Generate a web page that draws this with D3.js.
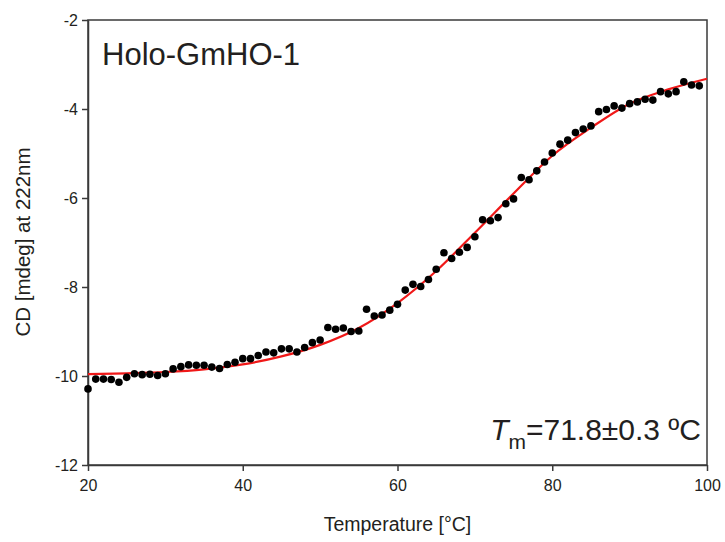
<!DOCTYPE html>
<html lang="en">
<head>
<meta charset="UTF-8">
<title>Holo-GmHO-1 melting curve</title>
<style>
    body { margin: 0; background: #fff; }
    text { font-family: "Liberation Sans", Arial, sans-serif; fill: #231f20; }
</style>
</head>
<body>
<script src="https://cdn.jsdelivr.net/npm/d3@7"></script>
<script>

    // measured CD signal, one reading per degree
    var temps = [20,21,22,23,24,25,26,27,28,29,30,31,32,33,34,35,36,37,38,39,
                 40,41,42,43,44,45,46,47,48,49,50,51,52,53,54,55,56,57,58,59,
                 60,61,62,63,64,65,66,67,68,69,70,71,72,73,74,75,76,77,78,79,
                 80,81,82,83,84,85,86,87,88,89,90,91,92,93,94,95,96,97,98,99];
    var cd = [-10.29,-10.07,-10.07,-10.08,-10.14,-10.03,-9.95,-9.97,-9.96,-9.99,
              -9.95,-9.84,-9.79,-9.75,-9.76,-9.76,-9.80,-9.83,-9.74,-9.69,
              -9.61,-9.61,-9.54,-9.46,-9.48,-9.39,-9.39,-9.46,-9.36,-9.25,
              -9.19,-8.91,-8.95,-8.92,-9.00,-8.99,-8.50,-8.65,-8.63,-8.52,
              -8.39,-8.07,-7.94,-7.99,-7.83,-7.60,-7.23,-7.36,-7.22,-7.11,
              -6.87,-6.49,-6.51,-6.44,-6.13,-6.02,-5.54,-5.59,-5.39,-5.19,
              -4.99,-4.79,-4.70,-4.53,-4.45,-4.38,-4.06,-4.01,-3.93,-3.98,
              -3.88,-3.84,-3.78,-3.80,-3.61,-3.66,-3.61,-3.39,-3.46,-3.48];

    var fitTemps = [20,25,30,35,40,45,50,55,60,65,70,75,80,85,90,95,100];
    var fitCd = [-9.96,-9.94,-9.91,-9.85,-9.74,-9.56,-9.30,-8.92,-8.36,-7.64,
                 -6.78,-5.90,-5.05,-4.42,-3.88,-3.56,-3.32];

    var xTicks = [20,40,60,80,100];
    var yTicks = [-2,-4,-6,-8,-10,-12];

    var width = 725, height = 542;
    var plotL = 88, plotR = 707, plotT = 20, plotB = 465;

    var svg = d3.select("body").append("svg")
        .attr("width", width)
        .attr("height", height);

    var x = d3.scaleLinear().domain([20, 100]).range([plotL, plotR]);
    var y = d3.scaleLinear().domain([-12, -2]).range([plotB, plotT]);

    // frame
    svg.append("rect")
        .attr("x", plotL).attr("y", plotT)
        .attr("width", plotR - plotL).attr("height", plotB - plotT)
        .attr("fill", "none").attr("stroke", "#3a3a3a").attr("stroke-width", 1.5);

    // plain hyphen for negatives, like the original
    var plain = function(d){ return String(d); };
    var xAxis = d3.axisBottom(x).tickValues(xTicks).tickFormat(plain).tickSize(6).tickSizeOuter(0);
    var yAxis = d3.axisLeft(y).tickValues(yTicks).tickFormat(plain).tickSize(6).tickSizeOuter(0);

    var gx = svg.append("g")
        .attr("transform", "translate(0," + plotB + ")")
        .call(xAxis);
    var gy = svg.append("g")
        .attr("transform", "translate(" + plotL + ",0)")
        .call(yAxis);

    [gx, gy].forEach(function(g){
        g.attr("font-size", 16).attr("font-family", "Liberation Sans, Arial, sans-serif");
        g.select(".domain").attr("stroke", "#3a3a3a").attr("stroke-width", 1.5);
        g.selectAll(".tick line").attr("stroke", "#3a3a3a").attr("stroke-width", 1.5);
        g.selectAll(".tick text").attr("fill", "#231f20");
    });
    gx.selectAll(".tick text").attr("dy", "1.05em");
    gy.selectAll(".tick text").attr("x", -10);

    // fit line
    var line = d3.line()
        .x(function(d){ return x(d[0]); })
        .y(function(d){ return y(d[1]); })
        .curve(d3.curveMonotoneX);

    svg.append("path")
        .datum(d3.zip(fitTemps, fitCd))
        .attr("d", line)
        .attr("fill", "none")
        .attr("stroke", "#f01818")
        .attr("stroke-width", 2.2);

    // data points
    svg.append("g").selectAll("circle")
        .data(d3.zip(temps, cd))
        .enter()
        .append("circle")
        .attr("cx", function(d){ return x(d[0]); })
        .attr("cy", function(d){ return y(d[1]); })
        .attr("r", 3.8)
        .attr("fill", "#000");

    // labels
    svg.append("text")
        .attr("x", (plotL + plotR) / 2).attr("y", 531)
        .attr("text-anchor", "middle").attr("font-size", 19.5)
        .text("Temperature [°C]");

    svg.append("text")
        .attr("transform", "translate(30,242) rotate(-90)")
        .attr("text-anchor", "middle").attr("font-size", 20.5)
        .text("CD [mdeg] at 222nm");

    svg.append("text")
        .attr("x", 102).attr("y", 65)
        .attr("font-size", 31)
        .text("Holo-GmHO-1");

    var tm = svg.append("text")
        .attr("x", 701).attr("y", 440)
        .attr("text-anchor", "end").attr("font-size", 30);
    tm.append("tspan").attr("font-style", "italic").text("T");
    tm.append("tspan").attr("font-size", 21).attr("dy", 9).text("m");
    tm.append("tspan").attr("dy", -9).text("=71.8±0.3 ºC");

</script>
</body>
</html>
